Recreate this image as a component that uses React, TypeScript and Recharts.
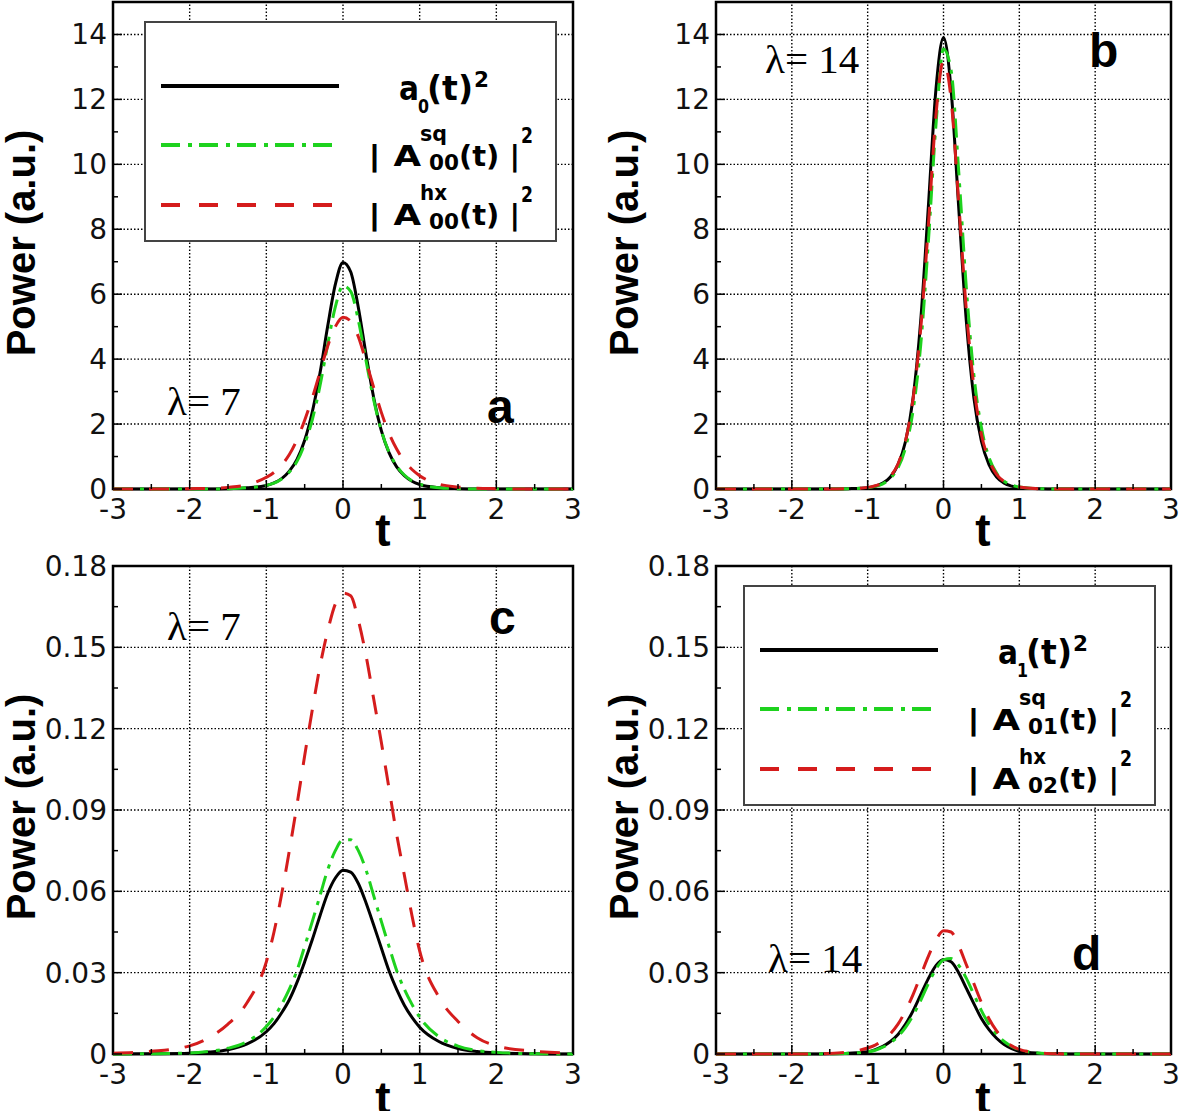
import React from "react";
import { Legend, Line, LineChart, ReferenceArea, ReferenceLine, XAxis, YAxis } from "recharts";

// time samples shared by all four panels
const T = [-3, -2.5, -2, -1.75, -1.5, -1.25, -1, -0.9, -0.8, -0.7, -0.6, -0.5, -0.4, -0.3, -0.2, -0.1, 0, 0.1, 0.2, 0.3, 0.4, 0.5, 0.6, 0.7, 0.8, 0.9, 1, 1.25, 1.5, 1.75, 2, 2.5, 3];

// panel a (lambda = 7, fundamental)
const A_SOLID = [0, 0, 0, 0, 0.01, 0.04, 0.11, 0.19, 0.32, 0.55, 0.91, 1.5, 2.38, 3.57, 5.01, 6.3, 6.98, 6.69, 5.59, 4.15, 2.82, 1.8, 1.12, 0.68, 0.41, 0.24, 0.14, 0.04, 0.01, 0, 0, 0, 0];
const A_SQ = [0, 0, 0, 0, 0.01, 0.04, 0.11, 0.18, 0.31, 0.52, 0.85, 1.39, 2.14, 3.18, 4.45, 5.61, 6.26, 6.09, 5.2, 3.96, 2.75, 1.8, 1.14, 0.71, 0.43, 0.25, 0.15, 0.04, 0.01, 0, 0, 0, 0];
const A_HX = [0, 0, 0.01, 0.02, 0.05, 0.13, 0.36, 0.51, 0.74, 1.06, 1.52, 2.12, 2.81, 3.6, 4.4, 5.0, 5.29, 5.17, 4.69, 3.93, 3.13, 2.36, 1.72, 1.23, 0.86, 0.6, 0.41, 0.15, 0.06, 0.02, 0.01, 0, 0];

// panel b (lambda = 14, fundamental)
const B_SOLID = [0, 0, 0, 0, 0, 0.01, 0.04, 0.09, 0.18, 0.37, 0.75, 1.47, 2.82, 5.2, 8.69, 12.3, 13.9, 12.3, 8.69, 5.2, 2.82, 1.47, 0.75, 0.37, 0.18, 0.09, 0.04, 0.01, 0, 0, 0, 0, 0];
const B_SQ = [0, 0, 0, 0, 0, 0.01, 0.04, 0.08, 0.16, 0.33, 0.65, 1.28, 2.44, 4.45, 7.6, 11.2, 13.55, 12.9, 9.8, 6.23, 3.52, 1.89, 0.97, 0.49, 0.24, 0.12, 0.06, 0.01, 0, 0, 0, 0, 0];
const B_HX = [0, 0, 0, 0, 0, 0.01, 0.05, 0.1, 0.2, 0.39, 0.77, 1.49, 2.8, 4.95, 8.1, 11.5, 13.19, 12.0, 8.85, 5.54, 3.17, 1.68, 0.9, 0.45, 0.23, 0.11, 0.06, 0.01, 0, 0, 0, 0, 0];

// panel c (lambda = 7, higher mode)
const C_SOLID = [0, 0.0001, 0.0003, 0.0007, 0.0016, 0.0037, 0.0082, 0.0112, 0.0152, 0.02, 0.0264, 0.034, 0.0422, 0.051, 0.0592, 0.0649, 0.0678, 0.0671, 0.0629, 0.0558, 0.0476, 0.0391, 0.0307, 0.0238, 0.018, 0.0135, 0.0099, 0.0046, 0.002, 0.0009, 0.0004, 0.0001, 0];
const C_SQ = [0, 0.0001, 0.0004, 0.001, 0.0021, 0.0046, 0.0101, 0.0136, 0.0183, 0.0239, 0.0308, 0.0397, 0.0489, 0.0584, 0.0679, 0.075, 0.079, 0.079, 0.075, 0.0679, 0.0584, 0.0489, 0.0397, 0.0308, 0.0239, 0.0183, 0.0136, 0.0064, 0.0029, 0.0013, 0.0006, 0.0001, 0];
const C_HX = [0.0003, 0.001, 0.003, 0.006, 0.011, 0.019, 0.034, 0.045, 0.059, 0.075, 0.092, 0.11, 0.127, 0.143, 0.156, 0.166, 0.17, 0.169, 0.16, 0.147, 0.131, 0.115, 0.098, 0.081, 0.066, 0.051, 0.038, 0.021, 0.012, 0.006, 0.003, 0.001, 0.0003];

// panel d (lambda = 14, higher mode)
const D_SOLID = [0, 0, 0, 0, 0.0001, 0.0003, 0.0008, 0.0016, 0.0028, 0.0046, 0.0072, 0.011, 0.016, 0.0219, 0.0278, 0.0326, 0.0349, 0.034, 0.03, 0.0243, 0.0186, 0.0131, 0.009, 0.0058, 0.0035, 0.002, 0.001, 0.0003, 0.0001, 0, 0, 0, 0];
const D_SQ = [0, 0, 0, 0, 0.0001, 0.0003, 0.0008, 0.0014, 0.0025, 0.0041, 0.0065, 0.0098, 0.0143, 0.0198, 0.0259, 0.0313, 0.0347, 0.0352, 0.0327, 0.028, 0.022, 0.016, 0.011, 0.0073, 0.0046, 0.0028, 0.0016, 0.0004, 0.0001, 0, 0, 0, 0];
const D_HX = [0, 0, 0, 0, 0.0002, 0.0008, 0.0022, 0.0033, 0.005, 0.0075, 0.011, 0.016, 0.022, 0.029, 0.036, 0.042, 0.0455, 0.045, 0.04, 0.033, 0.026, 0.019, 0.013, 0.0085, 0.0052, 0.003, 0.0017, 0.0005, 0.0001, 0, 0, 0, 0];

// ticks (minor + major) and grid positions
const X_TICKS = [-3, -2.5, -2, -1.5, -1, -0.5, 0, 0.5, 1, 1.5, 2, 2.5, 3];
const X_GRID = [-2, -1, 0, 1, 2];
const Y_TICKS_TOP = [0, 1, 2, 3, 4, 5, 6, 7, 8, 9, 10, 11, 12, 13, 14];
const Y_GRID_TOP = [2, 4, 6, 8, 10, 12, 14];
const Y_TICKS_BOT = [0, 0.015, 0.03, 0.045, 0.06, 0.075, 0.09, 0.105, 0.12, 0.135, 0.15, 0.165, 0.18];
const Y_GRID_BOT = [0.03, 0.06, 0.09, 0.12, 0.15];

const GREEN = "#1ed21e";
const RED = "#d51c1c";

const SERIES = [
  { key: "solid", color: "#000", dash: undefined as string | undefined },
  { key: "sq", color: GREEN, dash: "19 8 4 7" },
  { key: "hx", color: RED, dash: "20 16" },
];

const rows = (solid: number[], sq: number[], hx: number[]) =>
  T.map((t, i) => ({ t, solid: solid[i], sq: sq[i], hx: hx[i] }));

function XTick({ x, y, payload }: any) {
  const v = payload.value;
  const major = Number.isInteger(v);
  return (
    <g>
      <line x1={x} x2={x} y1={y} y2={y - (major ? 9 : 5)} stroke="#000" strokeWidth={1.5} />
      {major && (
        <text x={x} y={y + 30} textAnchor="middle" fontFamily="DejaVu Sans" fontSize={28} fill="#111">
          {String(v)}
        </text>
      )}
    </g>
  );
}

function YTick({ x, y, payload, step, digits }: any) {
  const v = payload.value;
  const major = Math.abs(v / step - Math.round(v / step)) < 1e-6;
  const label = v === 0 ? "0" : v.toFixed(digits);
  return (
    <g>
      <line x1={x} x2={x + (major ? 9 : 5)} y1={y} y2={y} stroke="#000" strokeWidth={1.5} />
      {major && (
        <text x={x - 6} y={y + 10} textAnchor="end" fontFamily="DejaVu Sans" fontSize={28} fill="#111">
          {label}
        </text>
      )}
    </g>
  );
}

// one piece of legend text, stretched to the measured width
function Piece({ x, y, size, w, children }: any) {
  return (
    <text x={x} y={y} fontSize={size} textLength={w} lengthAdjust="spacingAndGlyphs" fontFamily="DejaVu Sans" fontWeight="bold" fill="#000">
      {children}
    </text>
  );
}

function LegendBox({ mode, sub2, sub3 }: { mode: string; sub2: string; sub3: string }) {
  const rowY = [65, 124, 184];
  return (
    <svg width={413} height={221} style={{ display: "block" }}>
      <rect x={1} y={1} width={411} height={219} fill="#fff" stroke="#444" strokeWidth={2} />
      {SERIES.map((s, i) => (
        <line key={s.key} x1={17} x2={195} y1={rowY[i]} y2={rowY[i]} stroke={s.color} strokeWidth={4} strokeDasharray={i === 2 ? "19 19" : s.dash} />
      ))}
      <Piece x={255} y={79} size={33} w={20}>a</Piece>
      <Piece x={274} y={92} size={20} w={11}>{mode}</Piece>
      <Piece x={283} y={79} size={33} w={46}>(t)</Piece>
      <Piece x={330} y={66} size={21} w={15}>2</Piece>

      <Piece x={224} y={145} size={29} w={53}>| A</Piece>
      <Piece x={276} y={120} size={21} w={27}>sq</Piece>
      <Piece x={285} y={149} size={22} w={30}>{sub2}</Piece>
      <Piece x={315} y={145} size={29} w={61}>(t) |</Piece>
      <Piece x={377} y={122} size={21} w={12}>2</Piece>

      <Piece x={224} y={204} size={29} w={53}>| A</Piece>
      <Piece x={276} y={179} size={21} w={27}>hx</Piece>
      <Piece x={285} y={208} size={22} w={30}>{sub3}</Piece>
      <Piece x={315} y={204} size={29} w={61}>(t) |</Piece>
      <Piece x={377} y={181} size={21} w={12}>2</Piece>
    </svg>
  );
}

function Panel(p: any) {
  const { left, top, width, height, mTop, mRight, axisW, xAxisH, yMax, yTicks, yGrid, step, digits, data, legend } = p;
  return (
    <div style={{ position: "absolute", left, top }}>
      <LineChart width={width} height={height} data={data} margin={{ top: mTop, right: mRight, bottom: 0, left: 0 }}>
        <XAxis
          dataKey="t"
          type="number"
          domain={[-3, 3]}
          ticks={X_TICKS}
          interval={0}
          tickSize={0}
          tickMargin={0}
          axisLine={false}
          tickLine={false}
          height={xAxisH}
          tick={(tp: any) => <XTick {...tp} />}
        />
        <YAxis
          type="number"
          domain={[0, yMax]}
          ticks={yTicks}
          interval={0}
          tickSize={0}
          tickMargin={0}
          axisLine={false}
          tickLine={false}
          width={axisW}
          tick={(tp: any) => <YTick {...tp} step={step} digits={digits} />}
        />
        {X_GRID.map((v) => (
          <ReferenceLine key={"gx" + v} x={v} stroke="#000" strokeWidth={1.4} strokeDasharray="1.5 2" />
        ))}
        {yGrid.map((v: number) => (
          <ReferenceLine key={"gy" + v} y={v} stroke="#000" strokeWidth={1.4} strokeDasharray="1.5 2" />
        ))}
        <ReferenceArea x1={-3} x2={3} y1={0} y2={yMax} fill="none" fillOpacity={0} stroke="#000" strokeWidth={2.5} />
        {SERIES.map((s) => (
          <Line
            key={s.key}
            dataKey={s.key}
            type="monotone"
            stroke={s.color}
            strokeWidth={3}
            strokeDasharray={s.dash}
            dot={false}
            activeDot={false}
            isAnimationActive={false}
          />
        ))}
        {legend && (
          <Legend
            verticalAlign="middle"
            align="center"
            layout="horizontal"
            wrapperStyle={{ left: legend.x, top: legend.y, width: 413, height: 221 }}
            content={() => <LegendBox mode={legend.mode} sub2={legend.sub2} sub3={legend.sub3} />}
          />
        )}
      </LineChart>
    </div>
  );
}

const serif = "'Liberation Serif', 'Times New Roman', serif";
const sansBold = "'Liberation Sans', Arial, sans-serif";

function Annotations() {
  const titles = [
    { x: 35, y: 243 },
    { x: 638, y: 243 },
    { x: 35, y: 807 },
    { x: 638, y: 807 },
  ];
  const tLabels = [
    { x: 383, y: 546 },
    { x: 983, y: 546 },
    { x: 383, y: 1114 },
    { x: 983, y: 1114 },
  ];
  const lambdas = [
    { x: 167, y: 415, s: "λ= 7" },
    { x: 765, y: 73, s: "λ= 14" },
    { x: 167, y: 640, s: "λ= 7" },
    { x: 768, y: 972, s: "λ= 14" },
  ];
  const letters = [
    { x: 487, y: 423, s: "a" },
    { x: 1089, y: 67, s: "b" },
    { x: 489, y: 634, s: "c" },
    { x: 1072, y: 970, s: "d" },
  ];
  return (
    <svg width={1179} height={1111} style={{ position: "absolute", left: 0, top: 0, pointerEvents: "none" }}>
      {titles.map((t, i) => (
        <text key={"pt" + i} x={t.x} y={t.y} transform={`rotate(-90 ${t.x} ${t.y})`} textAnchor="middle" fontFamily={sansBold} fontWeight="bold" fontSize={40} fill="#000">
          Power (a.u.)
        </text>
      ))}
      {tLabels.map((t, i) => (
        <text key={"tt" + i} x={t.x} y={t.y} textAnchor="middle" fontFamily={sansBold} fontWeight="bold" fontSize={46} fill="#000">
          t
        </text>
      ))}
      {lambdas.map((l, i) => (
        <text key={"la" + i} x={l.x} y={l.y} fontFamily={serif} fontSize={41} fill="#000">
          {l.s}
        </text>
      ))}
      {letters.map((l, i) => (
        <text key={"le" + i} x={l.x} y={l.y} fontFamily={sansBold} fontWeight="bold" fontSize={48} fill="#000">
          {l.s}
        </text>
      ))}
    </svg>
  );
}

export default function App() {
  return (
    <div style={{ position: "absolute", left: 0, top: 0, width: 1179, height: 1111, background: "#fff", overflow: "hidden" }}>
      <Panel
        left={0} top={0} width={590} height={546} mTop={2} mRight={17} axisW={113} xAxisH={57}
        yMax={15} yTicks={Y_TICKS_TOP} yGrid={Y_GRID_TOP} step={2} digits={0}
        data={rows(A_SOLID, A_SQ, A_HX)}
        legend={{ x: 144, y: 21, mode: "0", sub2: "00", sub3: "00" }}
      />
      <Panel
        left={600} top={0} width={579} height={546} mTop={2} mRight={8} axisW={116} xAxisH={57}
        yMax={15} yTicks={Y_TICKS_TOP} yGrid={Y_GRID_TOP} step={2} digits={0}
        data={rows(B_SOLID, B_SQ, B_HX)}
      />
      <Panel
        left={0} top={546} width={590} height={565} mTop={20} mRight={17} axisW={113} xAxisH={57}
        yMax={0.18} yTicks={Y_TICKS_BOT} yGrid={Y_GRID_BOT} step={0.03} digits={2}
        data={rows(C_SOLID, C_SQ, C_HX)}
      />
      <Panel
        left={600} top={546} width={579} height={565} mTop={20} mRight={8} axisW={116} xAxisH={57}
        yMax={0.18} yTicks={Y_TICKS_BOT} yGrid={Y_GRID_BOT} step={0.03} digits={2}
        data={rows(D_SOLID, D_SQ, D_HX)}
        legend={{ x: 143, y: 39, mode: "1", sub2: "01", sub3: "02" }}
      />
      <Annotations />
    </div>
  );
}
